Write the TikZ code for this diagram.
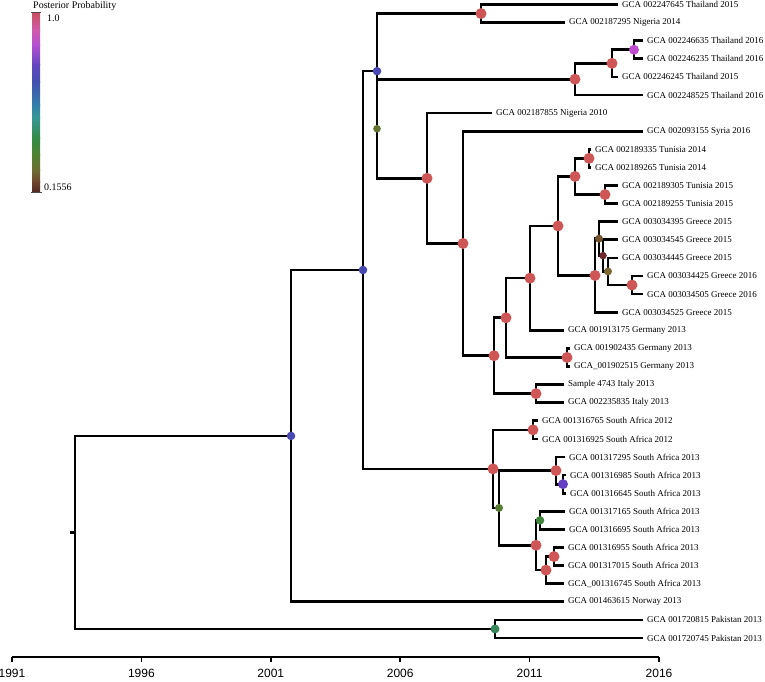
\documentclass[tikz,border=0pt]{standalone}
\usepackage{fontspec}
\setmainfont{Liberation Serif}
\newfontfamily\axisfont{Liberation Sans}

\definecolor{ppR}{RGB}{206,86,86}
\definecolor{ppMag}{RGB}{190,75,205}
\definecolor{ppBlue}{RGB}{72,72,178}
\definecolor{ppViol}{RGB}{100,62,195}
\definecolor{ppOlive}{RGB}{98,115,50}
\definecolor{ppGreen}{RGB}{85,122,48}
\definecolor{ppGreenB}{RGB}{62,132,58}
\definecolor{ppTeal}{RGB}{55,135,90}
\definecolor{ppBrown}{RGB}{115,85,45}
\definecolor{ppDkRed}{RGB}{110,42,45}
\definecolor{ppOchre}{RGB}{125,105,50}

% colour bar stops
\definecolor{cb1}{RGB}{200,80,96}
\definecolor{cb2}{RGB}{208,90,170}
\definecolor{cb3}{RGB}{180,80,210}
\definecolor{cb4}{RGB}{100,70,190}
\definecolor{cb5}{RGB}{65,80,175}
\definecolor{cb6}{RGB}{50,128,170}
\definecolor{cb7}{RGB}{55,150,150}
\definecolor{cb8}{RGB}{50,140,70}
\definecolor{cb9}{RGB}{80,130,50}
\definecolor{cb10}{RGB}{110,110,50}
\definecolor{cb11}{RGB}{110,70,45}
\definecolor{cb12}{RGB}{80,40,35}

\tikzset{
  branch/.style={line width=2.7pt, black},
  tiplab/.style={anchor=west, inner sep=0pt, xshift=4pt, font=\fontsize{9}{10}\selectfont},
  leglab/.style={anchor=west, inner sep=0pt, font=\fontsize{10}{11}\selectfont},
  yearlab/.style={inner sep=0pt, font=\axisfont\fontsize{12}{13}\selectfont},
}

\begin{document}
\begin{tikzpicture}[x=1pt, y=-1pt]
    \useasboundingbox (0,0) rectangle (765,682);

    % Tips and internal nodes (one row per tip)
    \begin{scope}[y=-18.1pt, yshift=-4.5pt]
        \foreach \n/\x/\txt in {
            1/618/GCA 002247645 Thailand 2015,
            2/565/GCA 002187295 Nigeria 2014,
            3/643/GCA 002246635 Thailand 2016,
            4/643/GCA 002246235 Thailand 2016,
            5/618/GCA 002246245 Thailand 2015,
            6/643/GCA 002248525 Thailand 2016,
            7/492/GCA 002187855 Nigeria 2010,
            8/643/GCA 002093155 Syria 2016,
            9/591/GCA 002189335 Tunisia 2014,
            10/591/GCA 002189265 Tunisia 2014,
            11/618/GCA 002189305 Tunisia 2015,
            12/618/GCA 002189255 Tunisia 2015,
            13/618/GCA 003034395 Greece 2015,
            14/618/GCA 003034545 Greece 2015,
            15/618/GCA 003034445 Greece 2015,
            16/643/GCA 003034425 Greece 2016,
            17/643/GCA 003034505 Greece 2016,
            18/618/GCA 003034525 Greece 2015,
            19/564/GCA 001913175 Germany 2013,
            20/570/GCA 001902435 Germany 2013,
            21/570/GCA\_001902515 Germany 2013,
            22/564/Sample 4743 Italy 2013,
            23/564/GCA 002235835 Italy 2013,
            24/538/GCA 001316765 South Africa 2012,
            25/538/GCA 001316925 South Africa 2012,
            26/565/GCA 001317295 South Africa 2013,
            27/566/GCA 001316985 South Africa 2013,
            28/566/GCA 001316645 South Africa 2013,
            29/565/GCA 001317165 South Africa 2013,
            30/565/GCA 001316695 South Africa 2013,
            31/564/GCA 001316955 South Africa 2013,
            32/564/GCA 001317015 South Africa 2013,
            33/564/GCA\_001316745 South Africa 2013,
            34/564/GCA 001463615 Norway 2013,
            35/643/GCA 001720815 Pakistan 2013,
            36/643/GCA 001720745 Pakistan 2013} {
            \coordinate (t\n) at (\x, {\n-1});
            \node[tiplab] (l\n) at (t\n) {\txt};
        }

        % Thailand / Nigeria
        \coordinate (nA) at (481, 0.5);
        \coordinate (nE) at (634, 2.5);
        \coordinate (nD) at (612, 3.25);
        \coordinate (nB) at (575, 4.125);
        % Tunisia
        \coordinate (nT1) at (589, 8.5);
        \coordinate (nT2) at (605, 10.5);
        \coordinate (nT) at (575, 9.5);
        % Greece
        \coordinate (nL) at (632, 15.5);
        \coordinate (nK) at (608, 14.75);
        \coordinate (nJ) at (603, 13.875);
        \coordinate (nI) at (599, 12.9375);
        \coordinate (nH) at (595, 14.969);
        \coordinate (nG) at (558, 12.234);
        % Germany / Italy
        \coordinate (nM) at (530, 15.117);
        \coordinate (nO) at (567, 19.5);
        \coordinate (nN) at (506, 17.309);
        \coordinate (nQ) at (536, 21.5);
        \coordinate (nP) at (494, 19.404);
        \coordinate (nF) at (463, 13.202);
        \coordinate (nC) at (427, 9.601);
        \coordinate (nX) at (377, 6.863);
        \coordinate (nY) at (377, 3.682);
        % South Africa
        \coordinate (nS1) at (533, 23.5);
        \coordinate (nU1) at (563, 26.5);
        \coordinate (nU) at (556, 25.75);
        \coordinate (nZ1) at (540, 28.5);
        \coordinate (nZ3) at (554, 30.5);
        \coordinate (nZ2) at (546, 31.25);
        \coordinate (nZ) at (536, 29.875);
        \coordinate (nS) at (499, 27.8125);
        \coordinate (nR) at (493, 25.656);
        % Backbone
        \coordinate (nW) at (363, 14.669);
        \coordinate (nV) at (291, 23.835);
        \coordinate (nPk) at (495, 34.5);
        \coordinate (root) at (75, 29.167);
        \coordinate (rstub) at (70, 29.167);
    \end{scope}

    % Branches
    \foreach \a/\p/\b in {t3/nE/t4, nE/nD/t5, nD/nB/t6, t1/nA/t2,
        t9/nT1/t10, t11/nT2/t12, nT1/nT/nT2,
        t16/nL/t17, t15/nK/nL, t14/nJ/nK, t13/nI/nJ, nI/nH/t18, nT/nG/nH,
        nG/nM/t19, t20/nO/t21, nM/nN/nO, t22/nQ/t23, nN/nP/nQ,
        t8/nF/nP, t7/nC/nF, nB/nX/nC, nA/nY/nX, nY/nW/nR,
        t24/nS1/t25, t27/nU1/t28, t26/nU/nU1, t29/nZ1/t30,
        t31/nZ3/t32, nZ3/nZ2/t33, nZ1/nZ/nZ2, nU/nS/nZ, nS1/nR/nS,
        nW/nV/t34, t35/nPk/t36, nV/root/nPk} {
        \draw[branch] (\a) -| (\p) |- (\b);
    }
    \draw[branch] (root) -- (rstub);

    % Posterior probabilities
    \foreach \nd/\col/\r in {nA/ppR/5.5, nB/ppR/5.5, nD/ppR/5.5, nE/ppMag/5,
        nC/ppR/5.5, nF/ppR/5.5, nP/ppR/5.5, nN/ppR/5.5, nM/ppR/5.5,
        nG/ppR/5.5, nT/ppR/5.5, nT1/ppR/5.5, nT2/ppR/5.5, nH/ppR/5.5,
        nL/ppR/5.5, nO/ppR/5.5, nQ/ppR/5.5, nI/ppBrown/4, nJ/ppDkRed/3.8,
        nK/ppOchre/4, nX/ppOlive/3.8, nY/ppBlue/4.3, nW/ppBlue/4.3,
        nV/ppBlue/4.3, nR/ppR/5.5, nS1/ppR/5.5, nU/ppR/5.5, nU1/ppViol/5,
        nS/ppGreen/4, nZ1/ppGreenB/4.3, nZ/ppR/5.5, nZ2/ppR/5.5,
        nZ3/ppR/5.5, nPk/ppTeal/4.5} {
        \fill[\col] (\nd) circle ({\r*1pt});
    }

    % Legend
    \foreach \ya/\ca/\yb/\cb in {13/cb1/30/cb2, 30/cb2/45/cb3, 45/cb3/65/cb4,
        65/cb4/82/cb5, 82/cb5/105/cb6, 105/cb6/118/cb7, 118/cb7/138/cb8,
        138/cb8/155/cb9, 155/cb9/170/cb10, 170/cb10/182/cb11, 182/cb11/192/cb12} {
        \shade[top color=\ca, bottom color=\cb] (32,\ya-0.3) rectangle (40,\yb+0.3);
    }
    \draw[line width=1pt, black!70] (31,13) -- (41,13);
    \draw[line width=1pt, black!70] (31,192) -- (42,192);
    \node[leglab] (ppTitle) at (33,6) {Posterior Probability};
    \node[leglab] (ppHi) at (47,18) {1.0};
    \node[leglab] (ppLo) at (44,187) {0.1556};

    % Time axis
    \foreach \k/\yr in {0/1991, 1/1996, 2/2001, 3/2006, 4/2011, 5/2016} {
        \coordinate (ax\k) at ({12+\k*129.4}, 657);
        \coordinate (tk\k) at ({12+\k*129.4}, 662);
        \draw[line width=1.5pt] (ax\k) -- (tk\k);
        \node[yearlab] (yr\k) at ({12+\k*129.4}, 673) {\yr};
    }
    \draw[line width=2.4pt] (ax0) -- (ax5);
\end{tikzpicture}
\end{document}
